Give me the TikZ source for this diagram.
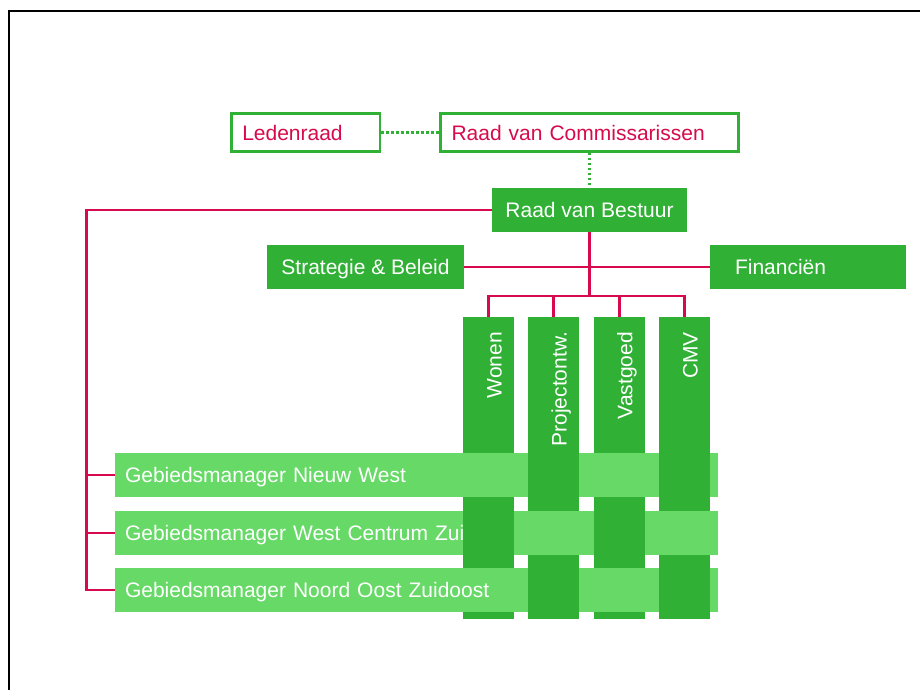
\documentclass[tikz,border=0pt]{standalone}
\usepackage{fontspec}
\setmainfont{Liberation Sans}
\definecolor{dkgreen}{RGB}{49,176,54}
\definecolor{ltgreen}{RGB}{102,217,102}
\definecolor{crimson}{RGB}{214,10,76}
\begin{document}
\begin{tikzpicture}[x = 1pt, y = -1pt,
		every node/.style = {font = \fontsize{21}{25}\selectfont, text height = 15pt, text depth = 0pt},
		board/.style = {draw = dkgreen, line width = 2.5pt, text = crimson, minimum height = 38pt, inner xsep = 11pt, align = left},
		unit/.style = {fill = dkgreen, text = white, minimum height = 43.5pt, inner sep = 0pt},
		pillar/.style = {fill = dkgreen, minimum width = 51pt, minimum height = 302pt, inner sep = 0pt},
		pillartext/.style = {text = white, rotate = 90, anchor = base east, inner sep = 0pt},
		area/.style = {fill = ltgreen, text = white, minimum height = 44pt, text width = 583pt, inner xsep = 10pt, align = left},
		link/.style = {draw = crimson, line width = 2.5pt},
		dotlink/.style = {draw = dkgreen, line width = 2.5pt, dash pattern = on 2.5pt off 2.5pt}]
		\useasboundingbox (0, 0) rectangle (920, 690);
		\draw[line width = 2.2pt] (9, 690) -- (9, 11) -- (920, 11);

		\node[board, text width = 126.5pt] (ledenraad) at (305.5, 132.5) {Ledenraad};
		\node[board, text width = 276pt] (rvc) at (589.5, 132.5) {Raad van Commissarissen};
		\node[unit, minimum width = 195.5pt] (rvb) at (589.5, 209.8) {Raad van Bestuur};
		\node[unit, minimum width = 196.5pt] (strategie) at (365.5, 266.8) {Strategie \& Beleid};
		\node[unit, text width = 146pt, inner xsep = 25pt, align = left] (financien) at (808, 266.8) {Financi\"en};

		\draw[dotlink] (ledenraad.east) -- (rvc.west);
		\draw[dotlink] (rvc.south) -- (rvb.north);
		\draw[link] (strategie.east) -- (financien.west);

		\node[pillar] (wonen) at (488.5, 468) {};
		\node[pillar] (project) at (553.5, 468) {};
		\node[pillar] (vastgoed) at (619.3, 468) {};
		\node[pillar] (cmv) at (684.5, 468) {};
		\node[pillartext] (wonentext) at ([xshift = 13pt, yshift = -15pt]wonen.north) {Wonen};
		\node[pillartext] (projecttext) at ([xshift = 13pt, yshift = -15pt]project.north) {Projectontw.};
		\node[pillartext] (vastgoedtext) at ([xshift = 13pt, yshift = -15pt]vastgoed.north) {Vastgoed};
		\node[pillartext] (cmvtext) at ([xshift = 13pt, yshift = -15pt]cmv.north) {CMV};

		\coordinate (bus) at (589.5, 296);
		\draw[link] (rvb.south) -- (bus);
		\foreach \p in {wonen, project, vastgoed, cmv}
			\draw[link] (bus) -| (\p.north);

		\node[area] (gmnw) at (416.5, 475) {Gebiedsmanager Nieuw West};
		\node[area] (gmwcz) at (416.5, 533) {Gebiedsmanager West Centrum Zuid};
		\node[area] (gmnoz) at (416.5, 590) {Gebiedsmanager Noord Oost Zuidoost};

		\coordinate (spine) at (86.7, 0);
		\draw[link] (rvb.west) -| (spine |- gmnoz.west) -- (gmnoz.west);
		\draw[link] (spine |- gmnw.west) -- (gmnw.west);
		\draw[link] (spine |- gmwcz.west) -- (gmwcz.west);

		\foreach \p/\r in {project/gmnw, cmv/gmnw, wonen/gmwcz, vastgoed/gmwcz, project/gmnoz, cmv/gmnoz}
			\fill[dkgreen] (\p.west |- \r.north) rectangle (\p.east |- \r.south);
	\end{tikzpicture}
\end{document}
